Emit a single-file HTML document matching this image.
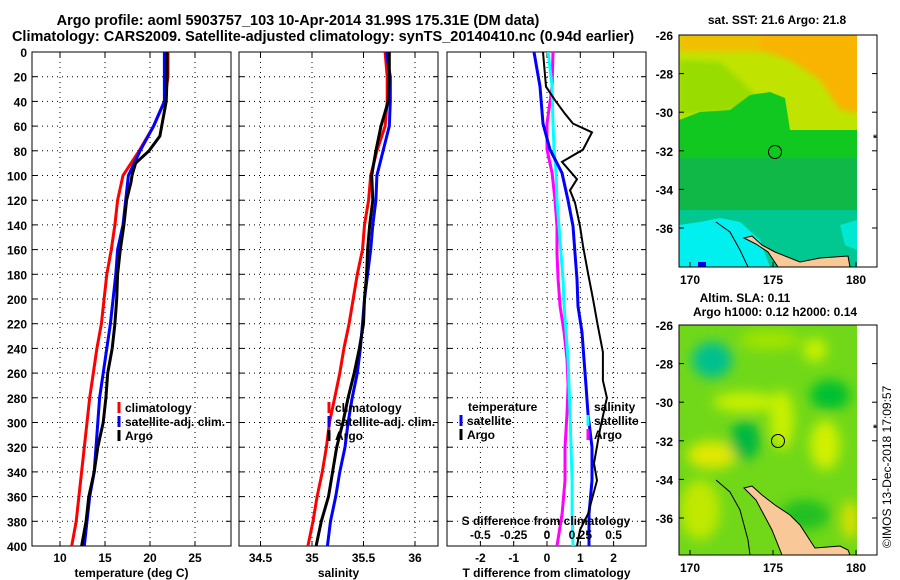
<!DOCTYPE html>
<html><head><meta charset="utf-8">
<style>
html,body{margin:0;padding:0;background:#fff;}
svg{display:block;font-family:"Liberation Sans",sans-serif;font-weight:bold;}
</style></head>
<body>
<svg id="fig" width="900" height="580" viewBox="0 0 900 580" xmlns="http://www.w3.org/2000/svg">
<defs>
<filter id="blur6" x="-20%" y="-20%" width="140%" height="140%"><feGaussianBlur stdDeviation="6"/></filter>
<filter id="blur3" x="-20%" y="-20%" width="140%" height="140%"><feGaussianBlur stdDeviation="3"/></filter>
<clipPath id="clip1"><rect x="679" y="35" width="178" height="232"/></clipPath>
<clipPath id="clip2"><rect x="679" y="325" width="178" height="230"/></clipPath>
<clipPath id="cp1"><rect x="32" y="52" width="199" height="494"/></clipPath>
<clipPath id="cp2"><rect x="239" y="52" width="199" height="494"/></clipPath>
<clipPath id="cp3"><rect x="447" y="52" width="199" height="494"/></clipPath>
</defs>
<text x="298" y="25" font-size="14.5" text-anchor="middle">Argo profile: aoml 5903757_103 10-Apr-2014 31.99S 175.31E (DM data)</text>
<text x="323" y="41" font-size="14.5" text-anchor="middle">Climatology: CARS2009. Satellite-adjusted climatology: synTS_20140410.nc (0.94d earlier)</text>

<!-- Map 1 SST -->
<g>
<g clip-path="url(#clip1)">
<rect x="679" y="35" width="178" height="232" fill="#00c890"/>
<rect x="679" y="35" width="178" height="100" fill="#c0e400"/>
<g filter="url(#blur3)">
<rect x="679" y="30" width="190" height="22" fill="#f0c000"/>
<polygon points="760,30 870,30 870,115 840,110 820,80 790,60 760,50" fill="#f8b400"/>
<polygon points="679,60 720,62 740,80 760,100 740,110 679,115" fill="#98dc00"/>
</g>
<polygon points="679,120 700,112 730,110 750,95 770,92 785,98 790,130 857,130 857,165 679,165" fill="#10c820"/>
<rect x="679" y="158" width="178" height="55" fill="#10b848"/>
<rect x="679" y="210" width="178" height="57" fill="#00c890"/>
<polygon points="679,225 700,222 720,218 740,222 760,240 770,267 679,267" fill="#00f0f0"/>
<polygon points="840,225 857,220 857,250 845,245" fill="#00e8d0"/>
<polygon points="744,238 752,236 762,245 775,252 790,258 800,262 820,258 848,256 850,267 778,267 768,252 756,244" fill="#f8c898" stroke="#000" stroke-width="1"/>
<polyline points="716,222 730,232 740,250 748,267" fill="none" stroke="#000" stroke-width="1"/>
<rect x="698" y="262" width="8" height="5" fill="#0000f0"/>
</g>
<circle cx="775" cy="152" r="6.5" fill="none" stroke="#000" stroke-width="1"/>
<rect x="679" y="35" width="198" height="232" fill="none" stroke="#000" stroke-width="1"/>
</g>
<text x="777" y="24" font-size="12" text-anchor="middle">sat. SST: 21.6 Argo: 21.8</text>

<!-- Map 2 SLA -->
<g>
<g clip-path="url(#clip2)">
<rect x="679" y="325" width="178" height="230" fill="#70d818"/>
<g filter="url(#blur6)">
<ellipse cx="712" cy="360" rx="20" ry="18" fill="#00c090"/>
<ellipse cx="745" cy="402" rx="32" ry="10" fill="#c8f000"/>
<ellipse cx="782" cy="420" rx="12" ry="30" fill="#c8f000"/>
<ellipse cx="815" cy="350" rx="12" ry="12" fill="#c8f000"/>
<ellipse cx="712" cy="455" rx="25" ry="14" fill="#e0e800"/>
<ellipse cx="745" cy="440" rx="15" ry="20" fill="#00b840"/>
<ellipse cx="825" cy="445" rx="15" ry="25" fill="#d0f000"/>
<ellipse cx="830" cy="395" rx="20" ry="15" fill="#00c030"/>
<ellipse cx="700" cy="510" rx="20" ry="30" fill="#c0e800"/>
<ellipse cx="850" cy="520" rx="8" ry="20" fill="#e0e000"/>
<ellipse cx="805" cy="515" rx="25" ry="15" fill="#20c020"/>
<ellipse cx="770" cy="340" rx="30" ry="10" fill="#a0e400"/>
</g>
<polygon points="744,488 752,486 762,495 775,505 790,515 800,525 815,548 840,546 848,550 850,555 782,555 772,530 756,500" fill="#f8c898" stroke="#000" stroke-width="1"/>
<polyline points="716,480 730,492 740,510 748,540 750,555" fill="none" stroke="#000" stroke-width="1"/>
</g>
<circle cx="778" cy="441" r="6.5" fill="none" stroke="#000" stroke-width="1"/>
<rect x="679" y="325" width="198" height="230" fill="none" stroke="#000" stroke-width="1"/>
</g>
<text x="745" y="302" font-size="12" text-anchor="middle">Altim. SLA: 0.11</text>
<text x="775" y="316" font-size="12" text-anchor="middle">Argo h1000: 0.12 h2000: 0.14</text>
<text transform="translate(891,548) rotate(-90)" font-size="12" font-weight="normal">©IMOS 13-Dec-2018 17:09:57</text>
<g id="axes"></g>
</svg>
<script>
// ---- data ----
const depthsTS = [0,20,40,60,80,100,120,140,160,180,200,220,240,260,280,300,320,340,360,380,400];
const tempClim = [22.0,22.0,21.6,20.4,18.8,17.0,16.4,16.1,15.7,15.2,14.9,14.6,14.1,13.7,13.3,13.0,12.7,12.4,12.1,11.8,11.3];
const tempSat  = [21.6,21.6,21.6,20.4,18.9,17.6,17.3,17.0,16.4,16.2,15.9,15.6,15.2,14.8,14.4,14.2,14.0,13.8,13.3,13.0,12.7];
const depthsArgoT = [0,20,40,60,68,80,90,100,105,120,140,160,180,200,220,240,260,280,300,320,340,360,380,400];
const tempArgo = [21.9,21.9,21.8,21.3,21.1,19.9,18.4,18.0,17.9,17.4,17.1,16.7,16.4,16.3,16.1,15.8,15.3,15.1,14.8,14.2,13.8,13.2,12.9,12.4];
const salClim = [35.71,35.73,35.73,35.71,35.63,35.57,35.55,35.51,35.49,35.44,35.40,35.36,35.31,35.27,35.22,35.17,35.14,35.10,35.05,35.01,34.96];
const salSat  = [35.72,35.76,35.76,35.75,35.69,35.63,35.62,35.59,35.57,35.54,35.51,35.49,35.47,35.44,35.39,35.35,35.32,35.27,35.23,35.18,35.15];
const salArgo = [35.75,35.75,35.74,35.67,35.62,35.58,35.59,35.56,35.54,35.53,35.51,35.50,35.46,35.41,35.35,35.30,35.24,35.20,35.16,35.09,35.04];
const depthsDiff = [0,28,58,79,98,120,141,163,184,206,227,249,270,293,320,347,374,400];
const tDiffSat = [-0.39,-0.21,-0.12,0.09,0.45,0.63,0.78,0.84,0.90,0.93,1.05,1.11,1.17,1.23,1.35,1.35,1.26,1.26];
const depthsDiffArgo = [0,28,39,50,58,65,79,89,103,112,122,141,157,179,200,222,243,266,280,306,333,347,374,387,400];
const tDiffArgo = [-0.12,-0.03,0.24,0.54,0.78,1.35,1.08,0.45,0.90,0.69,0.84,0.99,1.08,1.23,1.38,1.53,1.68,1.68,1.80,1.59,1.41,1.50,1.23,0.99,0.90];
const sDiffArgo = [0.045,0.038,0,0,0.038,0.06,0.075,0.075,0.083,0.098,0.128,0.15,0.158,0.15,0.135,0.135,0.113,0.075];
const sDiffSat  = [0.008,0.038,0.045,0.053,0.068,0.075,0.09,0.105,0.12,0.128,0.143,0.158,0.165,0.173,0.18,0.188,0.188,0.195];
const depthTicks = [0,20,40,60,80,100,120,140,160,180,200,220,240,260,280,300,320,340,360,380,400];
const tempTicks = [10,15,20,25];
const salTicks = [34.5,35,35.5,36];
const salTickLabels = ["34.5","35","35.5","36"];
const dTTicks = [-2,-1,0,1,2];
const dSTicks = [-0.5,-0.25,0,0.25,0.5];
const dSTickLabels = ["-0.5","-0.25","0","0.25","0.5"];
const latTicks = [-26,-28,-30,-32,-34,-36];
const lonTicks = [170,175,180];

// ---- scales ----
const yD = d => 52 + d*1.235;
const xT = t => 60 + (t-10)*9;
const xS = s => 312 + (s-35)*103;
const xDT = t => 547 + t*33.3;
const xDS = s => 547 + s*133.3;
const lat1 = l => 35 + (-26-l)*19.3;
const lat2 = l => 325 + (-26-l)*19.3;
const lonX = l => 690 + (l-170)*16.6;

const NS = "http://www.w3.org/2000/svg";
const root = document.getElementById('axes');
function mk(tag, attrs, parent){ const e=document.createElementNS(NS,tag); for(const k in attrs) e.setAttribute(k,attrs[k]); (parent||root).appendChild(e); return e; }
function txt(x,y,s,anchor,size,parent){ const t=mk('text',{x:x,y:y,'font-size':size||12,'text-anchor':anchor||'middle'},parent); t.textContent=s; return t; }

function panel(name, x0, x1, xTicksVals, xScale, labels, title){
  const g = mk('g',{});
  
  
  depthTicks.forEach(d=>{ if(d>0&&d<400){ mk('line',{x1:x0,x2:x1,y1:yD(d),y2:yD(d),stroke:'#000','stroke-width':1,'stroke-dasharray':'1,4'},g);
    mk('line',{x1:x0,x2:x0+5,y1:yD(d),y2:yD(d),stroke:'#000'},g); mk('line',{x1:x1-5,x2:x1,y1:yD(d),y2:yD(d),stroke:'#000'},g);} });
  xTicksVals.forEach((v,i)=>{ const x=xScale(v); mk('line',{x1:x,x2:x,y1:52,y2:546,stroke:'#000','stroke-dasharray':'1,4'},g);
    mk('line',{x1:x,x2:x,y1:546,y2:541,stroke:'#000'},g); mk('line',{x1:x,x2:x,y1:52,y2:57,stroke:'#000'},g);
    const t=txt(x,562,labels[i],'middle',12,g);
    
     });
  mk('rect',{x:x0,y:52,width:x1-x0,height:494,fill:'none',stroke:'#000','stroke-width':1},g);
  const tt = txt((x0+x1)/2,577,title,'middle',12,g);
  
  
  return g;
}
function line(g, xs, ds, xScale, color, w, name, clip){
  const pts = xs.map((v,i)=> (xScale(v)).toFixed(1)+','+yD(ds[i]).toFixed(1)).join(' ');
  const p = mk('polyline',{points:pts,fill:'none',stroke:color,'stroke-width':w,'clip-path':clip},g);
  
  
}
function legendEntry(g,x,y,color,label,name){
  const e = mk('g',{},g);
  
  
  if(color) mk('line',{x1:x,x2:x,y1:y-10,y2:y+1,stroke:color,'stroke-width':3},e);
  txt(x+6,y,label,'start',12,e);
}

depthTicks.forEach(d=>{ const t=txt(27,yD(d)+5,String(d),'end',12);
  
   });

const g1 = panel('temperature-panel',32,231,tempTicks,xT,tempTicks.map(String),'temperature (deg C)');
line(g1,tempClim,depthsTS,xT,'#ff0000',3,'temp-climatology-line','url(#cp1)');
line(g1,tempSat,depthsTS,xT,'#0000ff',3,'temp-satellite-line','url(#cp1)');
line(g1,tempArgo,depthsArgoT,xT,'#000000',3,'temp-argo-line','url(#cp1)');
legendEntry(g1,119,412,'#ff0000','climatology','legend-climatology');
legendEntry(g1,119,426,'#0000ff','satellite-adj. clim.','legend-satellite');
legendEntry(g1,119,440,'#000000','Argo','legend-argo');

const g2 = panel('salinity-panel',239,438,salTicks,xS,salTickLabels,'salinity');
line(g2,salClim,depthsTS,xS,'#ff0000',3,'sal-climatology-line','url(#cp2)');
line(g2,salSat,depthsTS,xS,'#0000ff',3,'sal-satellite-line','url(#cp2)');
line(g2,salArgo,depthsTS,xS,'#000000',3,'sal-argo-line','url(#cp2)');
legendEntry(g2,329,412,'#ff0000','climatology','legend-climatology');
legendEntry(g2,329,426,'#0000ff','satellite-adj. clim.','legend-satellite');
legendEntry(g2,329,440,'#000000','Argo','legend-argo');

const g3 = panel('difference-panel',447,646,dTTicks,xDT,dTTicks.map(String),'T difference from climatology');
line(g3,sDiffArgo,depthsDiff,xDS,'#ff00ff',3,'s-diff-argo-line','url(#cp3)');
line(g3,sDiffSat,depthsDiff,xDS,'#00ffff',3,'s-diff-satellite-line','url(#cp3)');
line(g3,tDiffSat,depthsDiff,xDT,'#0000ff',3,'t-diff-satellite-line','url(#cp3)');
line(g3,tDiffArgo,depthsDiffArgo,xDT,'#000000',2,'t-diff-argo-line','url(#cp3)');
legendEntry(g3,462,411,null,'temperature','legend-temperature-heading');
legendEntry(g3,461,425,'#0000ff','satellite','legend-t-satellite');
legendEntry(g3,461,439,'#000000','Argo','legend-t-argo');
legendEntry(g3,588,411,null,'salinity','legend-salinity-heading');
legendEntry(g3,588,425,'#00ffff','satellite','legend-s-satellite');
legendEntry(g3,588,439,'#ff00ff','Argo','legend-s-argo');
const st = txt(546,525,'S difference from climatology','middle',12,g3);


dSTicks.forEach((v,i)=>{ const t=txt(xDS(v),539,dSTickLabels[i],'middle',12,g3);
  
   });

function mapAxes(latFn, yb, name){
  const g = mk('g',{});
  
  
  latTicks.forEach(l=>{ const y=latFn(l);
    mk('line',{x1:679,x2:684,y1:y,y2:y,stroke:'#000'},g); mk('line',{x1:872,x2:877,y1:y,y2:y,stroke:'#000'},g);
    const t=txt(673,y+5,String(l),'end',12,g);
    
     });
  lonTicks.forEach(l=>{ const x=lonX(l);
    mk('line',{x1:x,x2:x,y1:yb,y2:yb-5,stroke:'#000'},g);
    const t=txt(x,yb+17,String(l),'middle',12,g);
    
     });
  mk('text',{x:873,y:latFn(-31.3)+4,'font-size':10},g).textContent='*';
}
mapAxes(lat1,267,'sst-map-axes');
mapAxes(lat2,555,'sla-map-axes');
</script>
</body></html>
